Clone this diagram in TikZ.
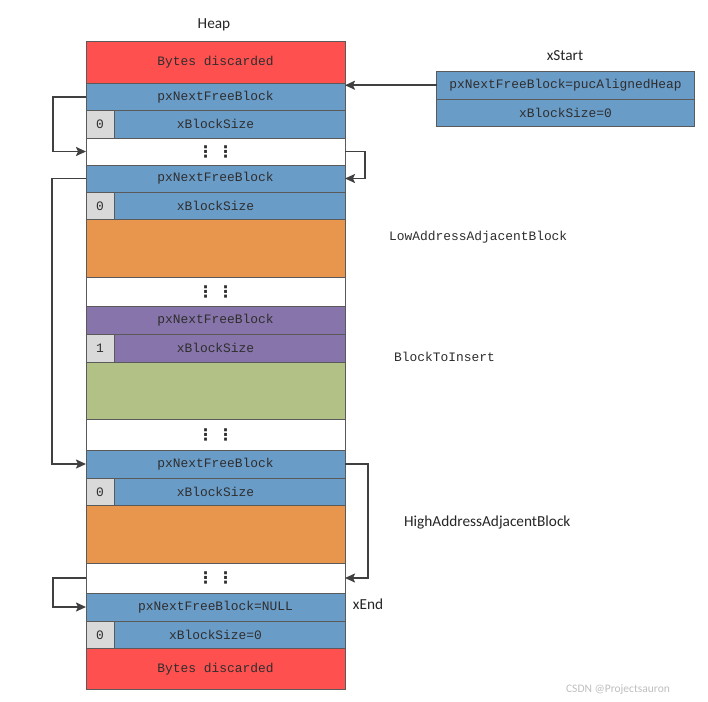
\documentclass[tikz,border=0pt]{standalone}
\usepackage{fontspec}
\newfontfamily\monof{Liberation Mono}
\newfontfamily\sansf{Carlito}
\newfontfamily\djv{DejaVu Sans}
\usetikzlibrary{arrows.meta}
\definecolor{cred}{HTML}{FF5050}
\definecolor{cblue}{HTML}{6A9CC8}
\definecolor{cgray}{HTML}{D9D9D9}
\definecolor{corange}{HTML}{E8954E}
\definecolor{cpurple}{HTML}{8674AA}
\definecolor{cgreen}{HTML}{B2C287}
\definecolor{cline}{HTML}{5A5A5A}
\definecolor{carrow}{HTML}{404040}
\definecolor{ctext}{HTML}{2E2E2E}
\begin{document}
\begin{tikzpicture}[x=1pt,y=-1pt,
  cell/.style={draw=cline,line width=0.8pt,inner sep=0pt,outer sep=0pt,
    minimum width=259pt,anchor=north west,text=ctext,
    font=\monof\fontsize{12.9}{14}\selectfont},
  flag/.style={draw=cline,line width=0.8pt,fill=cgray,inner sep=0pt,outer sep=0pt,
    minimum width=28pt,anchor=north west,text=ctext,
    font=\monof\fontsize{12.9}{14}\selectfont},
  xbox/.style={draw=cline,line width=0.8pt,fill=cblue,inner sep=0pt,outer sep=0pt,
    minimum width=258pt,anchor=north west,text=ctext,
    font=\monof\fontsize{12.9}{14}\selectfont},
  dotrow/.style={cell,fill=white,font=\djv\bfseries\fontsize{16}{16}\selectfont},
  conn/.style={draw=carrow,line width=1.7pt,-{Stealth[length=10pt,width=9pt,inset=2pt]}},
  lbl/.style={font=\sansf\fontsize{15.3}{17}\selectfont,text=black!85,inner sep=0pt},
  mlbl/.style={font=\monof\fontsize{12.9}{14}\selectfont,text=ctext,inner sep=0pt,anchor=west}
]
\useasboundingbox[fill=white] (0,0) rectangle (708,701);
% heap column
\node[cell,fill=cred,minimum height=42pt] (bd1) at (86,41) {Bytes discarded};
\node[cell,fill=cblue,minimum height=27.5pt] (nf1) at (86,83) {pxNextFreeBlock};
\node[cell,fill=cblue,minimum height=27.5pt] (bs1) at (86,110.5) {xBlockSize};
\node[flag,minimum height=27.5pt] (f1) at (86,110.5) {0};
\node[dotrow,minimum height=27pt] (d1) at (86,138) {⋮\hspace{4pt}⋮};
\node[cell,fill=cblue,minimum height=27pt] (nf2) at (86,165) {pxNextFreeBlock};
\node[cell,fill=cblue,minimum height=27.5pt] (bs2) at (86,192) {xBlockSize};
\node[flag,minimum height=27.5pt] (f2) at (86,192) {0};
\node[cell,fill=corange,minimum height=57.5pt] (or1) at (86,219.5) {};
\node[dotrow,minimum height=29.5pt] (d2) at (86,277) {⋮\hspace{4pt}⋮};
\node[cell,fill=cpurple,minimum height=27.5pt] (nf3) at (86,306.5) {pxNextFreeBlock};
\node[cell,fill=cpurple,minimum height=28pt] (bs3) at (86,334) {xBlockSize};
\node[flag,minimum height=28pt] (f3) at (86,334) {1};
\node[cell,fill=cgreen,minimum height=57pt] (gr) at (86,362) {};
\node[dotrow,minimum height=31pt] (d3) at (86,419) {⋮\hspace{4pt}⋮};
\node[cell,fill=cblue,minimum height=28pt] (nf4) at (86,450) {pxNextFreeBlock};
\node[cell,fill=cblue,minimum height=27.5pt] (bs4) at (86,478) {xBlockSize};
\node[flag,minimum height=27.5pt] (f4) at (86,478) {0};
\node[cell,fill=corange,minimum height=57.5pt] (or2) at (86,505.5) {};
\node[dotrow,minimum height=30pt] (d4) at (86,563) {⋮\hspace{4pt}⋮};
\node[cell,fill=cblue,minimum height=28pt] (nf5) at (86,593) {pxNextFreeBlock=NULL};
\node[cell,fill=cblue,minimum height=27.5pt] (bs5) at (86,621) {xBlockSize=0};
\node[flag,minimum height=27.5pt] (f5) at (86,621) {0};
\node[cell,fill=cred,minimum height=40.5pt] (bd2) at (86,648.5) {Bytes discarded};
% xStart
\node[xbox,minimum height=27.5pt] (xs1) at (436.5,71.5) {pxNextFreeBlock=pucAlignedHeap};
\node[xbox,minimum height=27.5pt] (xs2) at (436.5,99) {xBlockSize=0};
% labels
\node[lbl] (heap) at (214,25) {Heap};
\node[lbl] (xstart) at (565,56) {xStart};
\node[lbl] (xend) at (368,604) {xEnd};
\node[mlbl] (low) at (389,237) {LowAddressAdjacentBlock};
\node[mlbl] (ins) at (394,357) {BlockToInsert};
\node[lbl,anchor=west] (high) at (404,522) {HighAddressAdjacentBlock};
\node[font=\sansf\fontsize{11.5}{13}\selectfont,text=black!25,inner sep=0pt] (wm) at (618,690) {CSDN @Projectsauron};
% connectors
\draw[conn] (xs1.west) -- (xs1.west -| nf1.east);
\draw[conn] (nf1.west) -- ++(-33,0) |- (d1.west);
\draw[conn] (d1.east) -- ++(20,0) |- (nf2.east);
\draw[conn] (nf2.west) -- ++(-34,0) |- (nf4.west);
\draw[conn] (nf4.east) -- ++(23,0) |- (d4.east);
\draw[conn] (d4.west) -- ++(-33,0) |- (nf5.west);
\end{tikzpicture}
\end{document}
